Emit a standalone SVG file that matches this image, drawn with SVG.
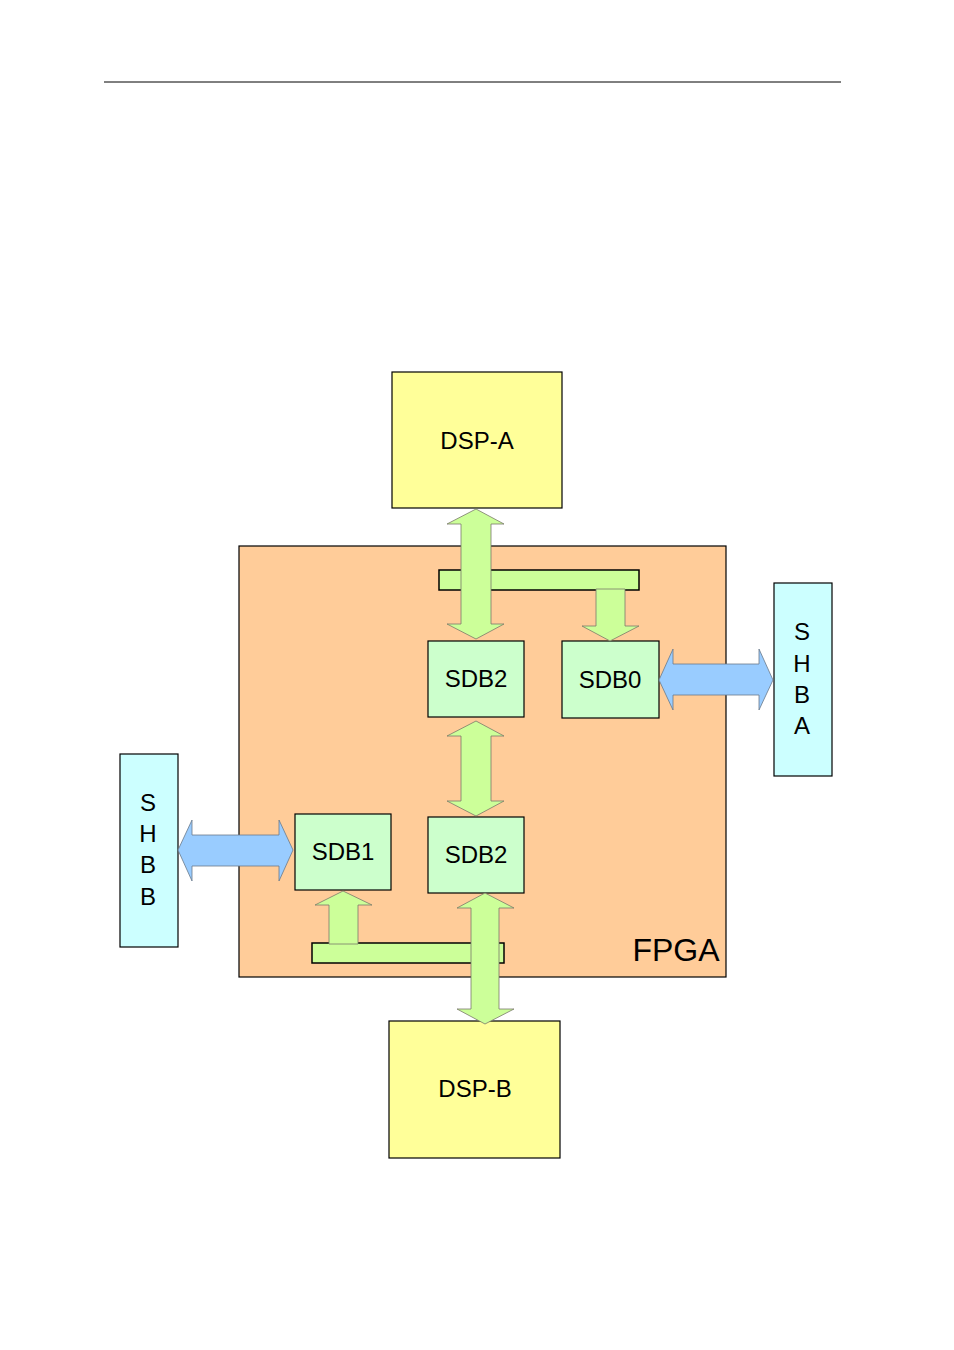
<svg xmlns="http://www.w3.org/2000/svg" width="954" height="1350" viewBox="0 0 954 1350">
<style>
.box{stroke:#000;stroke-width:1.2}
.dsp{fill:#FFFF99}
.fpga{fill:#FFCC99}
.sdb{fill:#CCFFCC}
.shb{fill:#CCFFFF}
.bar{fill:#CCFF99;stroke:#000;stroke-width:1.5}
.ga{fill:#CCFF99;stroke:#7a7a6a;stroke-width:0.8}
.ba{fill:#99CCFF;stroke:#6a7a8a;stroke-width:0.8}
text{font-family:"Liberation Sans",Arial,sans-serif;font-size:24px;fill:#000;text-anchor:middle}
</style>
<rect width="954" height="1350" fill="#fff"/>
<line x1="104" y1="82" x2="841" y2="82" stroke="#000" stroke-width="1"/>
<g id="fpga"><rect class="box fpga" x="239" y="546" width="487" height="431"/><text x="676" y="961" style="font-size:32px">FPGA</text></g>
<g id="dsp-a"><rect class="box dsp" x="392" y="372" width="170" height="136"/><text x="477" y="449">DSP-A</text></g>
<g id="dsp-b"><rect class="box dsp" x="389" y="1021" width="171" height="137"/><text x="475" y="1097">DSP-B</text></g>
<g id="sdb2-top"><rect class="box sdb" x="428" y="641" width="96" height="76"/><text x="476" y="687">SDB2</text></g>
<g id="sdb0"><rect class="box sdb" x="562" y="641" width="97" height="77"/><text x="610" y="688">SDB0</text></g>
<g id="sdb1"><rect class="box sdb" x="295" y="814" width="96" height="76"/><text x="343" y="860">SDB1</text></g>
<g id="sdb2-bottom"><rect class="box sdb" x="428" y="817" width="96" height="76"/><text x="476" y="863">SDB2</text></g>
<g id="shba"><rect class="box shb" x="774" y="583" width="58" height="193"/><text x="802" y="640">S</text><text x="802" y="672">H</text><text x="802" y="703">B</text><text x="802" y="734">A</text></g>
<g id="shbb"><rect class="box shb" x="120" y="754" width="58" height="193"/><text x="148" y="811">S</text><text x="148" y="842">H</text><text x="148" y="873">B</text><text x="148" y="905">B</text></g>
<g id="connectors">
<rect class="bar" x="439" y="570" width="200" height="20"/>
<polygon class="ga" points="476,509 504,524 491,524 491,624 504,624 476,639 447,624 461,624 461,524 447,524"/>
<polygon class="ga" points="596,589 625,589 625,626 639,626 610,641 582,626 596,626"/>
<polygon class="ga" points="476,721 504,736 491,736 491,801 504,801 476,816 447,801 461,801 461,736 447,736"/>
<polygon class="ba" points="659,680 673,649 673,664 759,664 759,649 773,680 759,710 759,695 673,695 673,710"/>
<polygon class="ba" points="178,850 192,820 192,835 279,835 279,820 293,850 279,881 279,866 192,866 192,881"/>
<rect class="bar" x="312" y="943" width="192" height="20"/>
<polygon class="ga" points="343,891 372,905 358,905 358,944 329,944 329,905 315,905"/>
<polygon class="ga" points="485,893 514,908 499,908 499,1009 514,1009 485,1024 457,1009 471,1009 471,908 457,908"/>
</g>
</svg>
